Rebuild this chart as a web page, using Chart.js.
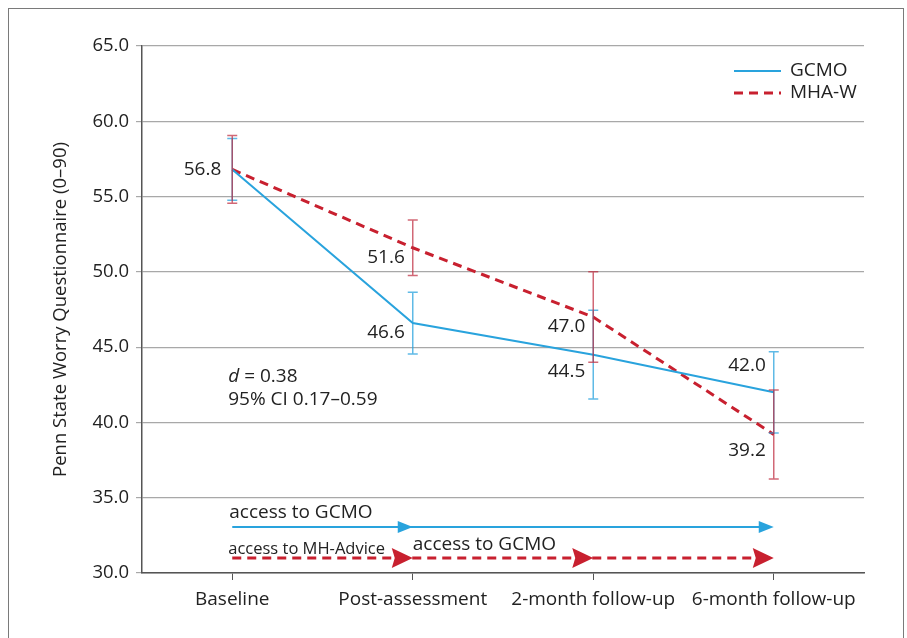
<!DOCTYPE html>
<html>
<head>
<meta charset="utf-8">
<script src="https://cdn.jsdelivr.net/npm/chart.js@4.4.0/dist/chart.umd.min.js"></script>
<style>
  html, body { margin: 0; padding: 0; background: #fff; }
  #wrap { position: relative; width: 907px; height: 638px; overflow: hidden; }
  #frame { position: absolute; left: 8px; top: 8px; width: 894px; height: 700px; border: 1.5px solid #7a7a7a; }
  canvas { position: absolute; left: 0; top: 0; }
</style>
</head>
<body>
<div id="wrap"><div id="frame"></div><canvas id="worryChart" width="907" height="638"></canvas></div>
<script>
// values
const timepoints = ['Baseline', 'Post-assessment', '2-month follow-up', '6-month follow-up'];
const gcmoMeans = [56.8, 46.6, 44.5, 42.0];
const gcmoErrors = [2.05, 2.05, 2.95, 2.7];
const mhawMeans = [56.8, 51.6, 47.0, 39.2];
const mhawErrors = [2.25, 1.85, 3.0, 2.95];
const gcmoLabels = ['56.8', '46.6', '44.5', '42.0'];
const mhawLabels = [null, '51.6', '47.0', '39.2'];
const yMin = 30, yMax = 65, yStep = 5;

// access periods drawn under the lines
const gcmoAccessLevel = 33.05;
const gcmoAccessHeads = ['Post-assessment', '6-month follow-up'];
const mhawAccessLevel = 31.0;
const mhawAccessHeads = ['Post-assessment', '2-month follow-up', '6-month follow-up'];

const BLUE = '#29a3dd';
const RED = '#c8202f';
const FONT = "'Open Sans', sans-serif";
const TEXT = '#222';

const overlay = {
  id: 'overlay',
  afterDatasetsDraw(chart) {
    const ctx = chart.ctx;
    const xs = chart.scales.x, ys = chart.scales.y;
    const area = chart.chartArea;

    // error bars
    chart.data.datasets.forEach(ds => {
      ctx.save();
      ctx.strokeStyle = ds.errorColor;
      ctx.lineWidth = 1.5;
      ds.data.forEach((v, j) => {
        const px = xs.getPixelForValue(j);
        const top = ys.getPixelForValue(v + ds.errors[j]);
        const bot = ys.getPixelForValue(v - ds.errors[j]);
        ctx.beginPath();
        ctx.moveTo(px, top); ctx.lineTo(px, bot);
        ctx.moveTo(px - 5, top); ctx.lineTo(px + 5, top);
        ctx.moveTo(px - 5, bot); ctx.lineTo(px + 5, bot);
        ctx.stroke();
      });
      ctx.restore();
    });

    // value labels
    ctx.save();
    ctx.font = '19px ' + FONT;
    ctx.fillStyle = TEXT;
    ctx.textAlign = 'right';
    ctx.textBaseline = 'middle';
    chart.data.datasets.forEach(ds => {
      ds.valueLabels.forEach((t, j) => {
        if (!t) return;
        const off = ds.labelOffsets[j];
        ctx.fillText(t, xs.getPixelForValue(j) + off[0], ys.getPixelForValue(ds.data[j]) + off[1]);
      });
    });
    ctx.restore();

    // effect size note
    ctx.save();
    ctx.fillStyle = TEXT;
    ctx.textBaseline = 'middle';
    const nx = xs.getPixelForValue(0) - 4;
    ctx.font = 'italic 19px ' + FONT;
    ctx.fillText('d', nx, 377);
    const w = ctx.measureText('d').width;
    ctx.font = '19px ' + FONT;
    ctx.fillText(' = 0.38', nx + w, 377);
    ctx.fillText('95% CI 0.17\u20130.59', nx, 400);
    ctx.restore();

    // access arrows
    const x0 = xs.getPixelForValue(0);
    const x3 = xs.getPixelForValue(timepoints.length - 1);
    const yb = ys.getPixelForValue(gcmoAccessLevel);
    const yr = ys.getPixelForValue(mhawAccessLevel);
    ctx.save();
    ctx.strokeStyle = BLUE; ctx.lineWidth = 2;
    ctx.beginPath(); ctx.moveTo(x0, yb); ctx.lineTo(x3 - 6, yb); ctx.stroke();
    ctx.fillStyle = BLUE;
    gcmoAccessHeads.forEach(c => {
      const hx = xs.getPixelForValue(timepoints.indexOf(c));
      ctx.beginPath(); ctx.moveTo(hx, yb); ctx.lineTo(hx - 15, yb - 6); ctx.lineTo(hx - 15, yb + 6); ctx.closePath(); ctx.fill();
    });
    ctx.strokeStyle = RED; ctx.lineWidth = 3; ctx.setLineDash([9, 6]);
    ctx.beginPath(); ctx.moveTo(x0, yr); ctx.lineTo(x3 - 8, yr); ctx.stroke();
    ctx.setLineDash([]);
    ctx.fillStyle = RED;
    mhawAccessHeads.forEach(c => {
      const hx = xs.getPixelForValue(timepoints.indexOf(c));
      ctx.beginPath(); ctx.moveTo(hx, yr); ctx.lineTo(hx - 21, yr - 10); ctx.lineTo(hx - 18, yr); ctx.lineTo(hx - 21, yr + 10); ctx.closePath(); ctx.fill();
    });
    ctx.fillStyle = TEXT;
    ctx.textBaseline = 'middle';
    ctx.font = '19px ' + FONT;
    ctx.fillText('access to GCMO', x0 - 3, yb - 14);
    ctx.fillText('access to GCMO', xs.getPixelForValue(1), yr - 13);
    ctx.font = '16.5px ' + FONT;
    ctx.fillText('access to MH-Advice', x0 - 4, yr - 9);
    ctx.restore();

    // legend
    ctx.save();
    const lx = area.right - 130;
    chart.data.datasets.forEach((ds, i) => {
      const ly = area.top + 25 + i * 22;
      ctx.strokeStyle = ds.borderColor;
      ctx.lineWidth = ds.borderWidth;
      ctx.setLineDash(ds.borderDash || []);
      ctx.beginPath(); ctx.moveTo(lx, ly); ctx.lineTo(lx + 47, ly); ctx.stroke();
      ctx.setLineDash([]);
      ctx.fillStyle = TEXT;
      ctx.font = '19px ' + FONT;
      ctx.textBaseline = 'middle';
      ctx.fillText(ds.label, lx + 56, ly);
    });
    ctx.restore();
  }
};

const ctx = document.getElementById('worryChart').getContext('2d');
new Chart(ctx, {
  type: 'line',
  data: {
    labels: timepoints,
    datasets: [
      {
        label: 'GCMO',
        data: gcmoMeans,
        errors: gcmoErrors,
        valueLabels: gcmoLabels,
        labelOffsets: [[-11, 0], [-8, 10], [-8, 17], [-8, -27]],
        errorColor: 'rgba(41,163,221,0.75)',
        borderColor: BLUE,
        borderWidth: 2,
        pointRadius: 0,
        tension: 0
      },
      {
        label: 'MHA-W',
        data: mhawMeans,
        errors: mhawErrors,
        valueLabels: mhawLabels,
        labelOffsets: [null, [-8, 10], [-8, 10], [-8, 16]],
        errorColor: 'rgba(190,40,60,0.7)',
        borderColor: RED,
        borderWidth: 3,
        borderDash: [9, 6],
        pointRadius: 0,
        tension: 0
      }
    ]
  },
  options: {
    responsive: false,
    animation: false,
    layout: { padding: { left: 0, right: 43, top: 46, bottom: 0 } },
    plugins: { legend: { display: false }, tooltip: { enabled: false } },
    scales: {
      x: {
        offset: true,
        afterFit: s => { s.height = 65; },
        border: { color: '#555', width: 1.5 },
        grid: { display: true, offset: false, drawOnChartArea: false, drawTicks: true, tickLength: 7, color: '#555' },
        ticks: { color: TEXT, font: { family: FONT, size: 19 }, padding: 8, maxRotation: 0 }
      },
      y: {
        min: yMin,
        max: yMax,
        afterFit: s => { s.width = 142; },
        border: { color: '#555', width: 1.5 },
        grid: { color: '#a8a8a8', lineWidth: 1.2, drawTicks: true, tickLength: 6 },
        ticks: { stepSize: yStep, color: TEXT, font: { family: FONT, size: 18.5 }, padding: 7, callback: v => v.toFixed(1) },
        title: { display: true, text: 'Penn State Worry Questionnaire (0\u201390)', color: TEXT, font: { family: FONT, size: 18.5 }, padding: { top: 50, bottom: 0 } }
      }
    }
  },
  plugins: [overlay]
});
</script>
</body>
</html>
